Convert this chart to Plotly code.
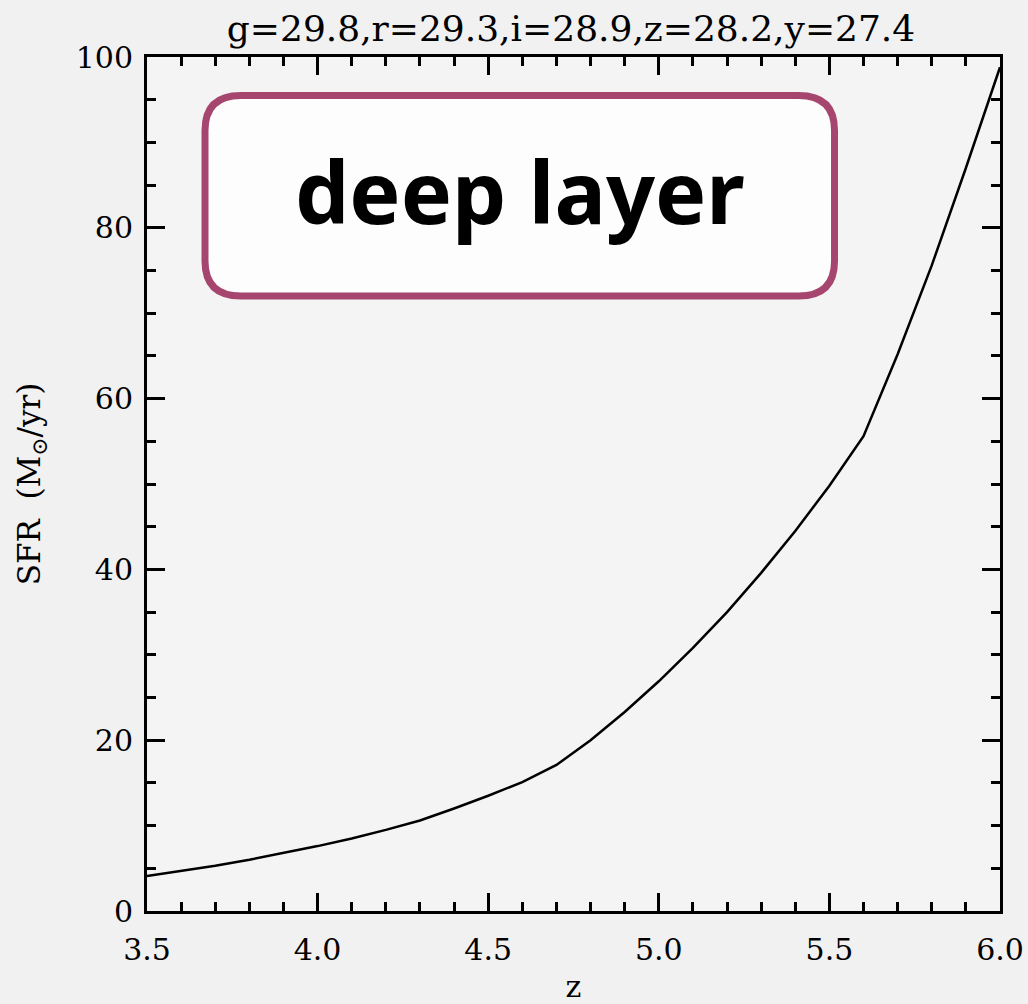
import plotly.graph_objects as go

# Star formation rate vs redshift
redshift = [3.5, 3.6, 3.7, 3.8, 3.9, 4.0, 4.1, 4.2, 4.3, 4.4, 4.5, 4.6, 4.7,
            4.8, 4.9, 5.0, 5.1, 5.2, 5.3, 5.4, 5.5, 5.6, 5.7, 5.8, 5.9, 6.0]
sfr = [4.1, 4.7, 5.3, 6.0, 6.8, 7.6, 8.5, 9.5, 10.6, 12.0, 13.5, 15.1, 17.1,
       20.0, 23.3, 26.9, 30.8, 35.0, 39.6, 44.5, 49.8, 55.6, 65.2, 75.6, 87.0, 98.8]

x_ticks = [3.5, 4.0, 4.5, 5.0, 5.5, 6.0]
x_ticklabels = ["3.5", "4.0", "4.5", "5.0", "5.5", "6.0"]
y_ticks = [0, 20, 40, 60, 80, 100]

title = "g=29.8,r=29.3,i=28.9,z=28.2,y=27.4"
serif = "DejaVu Serif, serif"

fig = go.Figure(go.Scatter(x=redshift, y=sfr, mode="lines",
                           line=dict(color="black", width=2.5),
                           showlegend=False))

axis_common = dict(
    showgrid=False, zeroline=False, automargin=False,
    showline=True, linecolor="black", linewidth=3, mirror="ticks",
    ticks="inside", ticklen=18, tickwidth=2.5, tickcolor="black",
    tickfont=dict(family=serif, size=30, color="black"),
)

fig.update_xaxes(range=[3.5, 6.0], tickvals=x_ticks, ticktext=x_ticklabels,
                 ticklabelstandoff=10,
                 minor=dict(dtick=0.1, ticks="inside", ticklen=9, tickwidth=2.5,
                            tickcolor="black", showgrid=False),
                 title=dict(text="z", font=dict(family=serif, size=30, color="black"),
                            standoff=12),
                 **axis_common)
fig.update_yaxes(range=[0, 100], tickvals=y_ticks,
                 ticklabelstandoff=5,
                 minor=dict(dtick=5, ticks="inside", ticklen=9, tickwidth=2.5,
                            tickcolor="black", showgrid=False),
                 title=dict(text="SFR&nbsp; (M<sub>⊙</sub>/yr)",
                            font=dict(family=serif, size=31, color="black"),
                            standoff=26),
                 **axis_common)

# rounded label box, in data coordinates
x0, x1, y0, y1 = 3.67, 5.515, 72.0, 95.5
rx, ry = 0.105, 4.1
path = (f"M {x0 + rx},{y0} L {x1 - rx},{y0} Q {x1},{y0} {x1},{y0 + ry} "
        f"L {x1},{y1 - ry} Q {x1},{y1} {x1 - rx},{y1} "
        f"L {x0 + rx},{y1} Q {x0},{y1} {x0},{y1 - ry} "
        f"L {x0},{y0 + ry} Q {x0},{y0} {x0 + rx},{y0} Z")
fig.add_shape(type="path", path=path, xref="x", yref="y",
              fillcolor="#fdfdfd", line=dict(color="#a6466f", width=7))
fig.add_annotation(x=(x0 + x1) / 2, y=(y0 + y1) / 2 + 0.6, text="<b>deep layer</b>",
                   showarrow=False, xref="x", yref="y",
                   font=dict(family="Noto Sans, sans-serif", size=86, color="black"))

fig.update_layout(
    width=1028, height=1004,
    margin=dict(l=147, r=28, t=57, b=93),
    paper_bgcolor="#f1f1f1", plot_bgcolor="#f4f4f4",
    title=dict(text=title, x=571 / 1028, xanchor="center",
               y=1 - 28 / 1004, yanchor="middle",
               font=dict(family=serif, size=36, color="black")),
)

# drop the default page margin so the figure sits at the window origin
fig.write_html("out.html", config={"displayModeBar": False},
               post_script="document.body.style.margin='0';"
                           "document.body.style.background='#f1f1f1';")
